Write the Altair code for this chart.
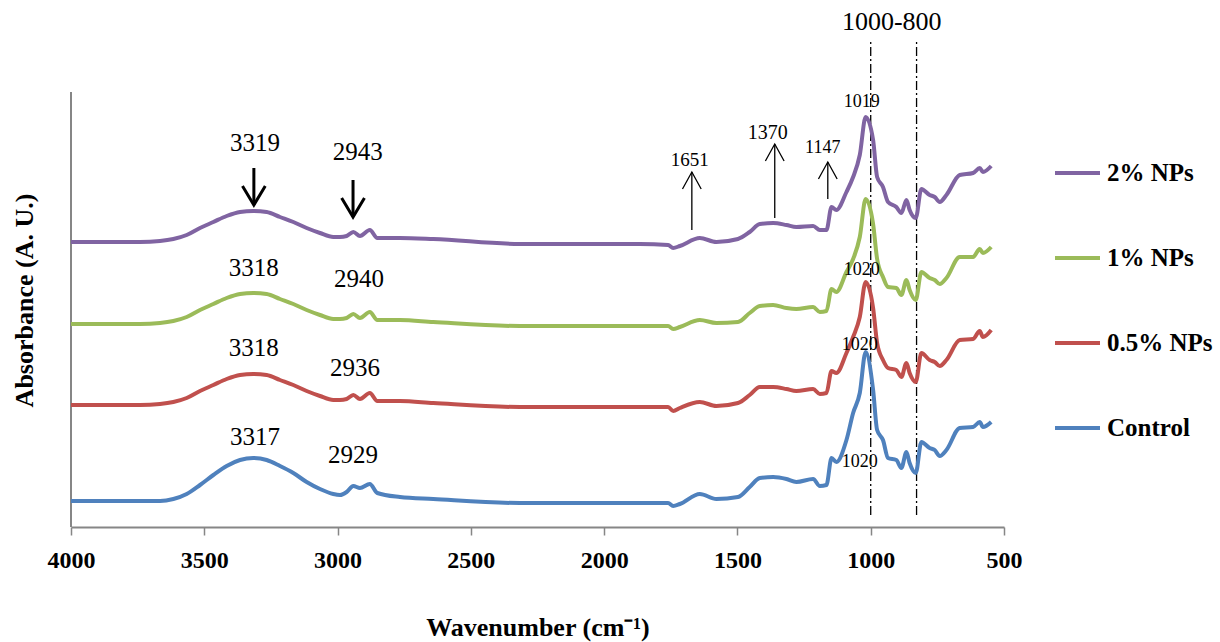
import altair as alt
import pandas as pd

# ---- data (height above the x axis, arbitrary units) ----
wavenumber = [4000, 3741, 3666, 3616, 3566, 3516, 3466, 3416, 3366, 3316, 3266, 3216, 3166, 3116,
              3066, 3016, 2991, 2966, 2941, 2916, 2879, 2851, 2766, 2641, 2316,
              1866, 1760, 1741, 1716, 1641, 1579, 1498, 1454,
              1416, 1366, 1316, 1279, 1216, 1191, 1166, 1147, 1129, 1091, 1066, 1041, 1019, 991,
              976, 954, 935, 904, 885, 866, 854, 831, 810, 779, 760, 741, 716, 666, 616, 591, 579, 548]

np2 = [285, 285, 286, 288, 292, 299, 305, 311, 315, 316, 315, 310, 305, 299,
       294, 290, 290, 291, 295, 291, 297, 289, 289, 288, 283,
       283, 282, 279, 281, 289, 285, 288, 295,
       303, 304, 302, 300, 301, 297, 297, 320, 317, 335, 350, 372, 410, 387,
       350, 340, 325, 320, 314, 327, 317, 309, 338, 332, 330, 325, 332, 352, 354, 359, 355, 361]

np1 = [203, 203, 204, 206, 210, 217, 223, 229, 233, 234, 233, 228, 223, 217,
       212, 208, 208, 209, 213, 209, 215, 207, 207, 205, 201,
       201, 201, 198, 200, 207, 204, 205, 214,
       221, 222, 219, 218, 220, 215, 216, 238, 235, 255, 268, 290, 328, 303,
       268, 250, 240, 239, 232, 247, 237, 227, 255, 249, 247, 243, 249, 270, 270, 278, 274, 280]

np05 = [122, 122, 123, 125, 129, 136, 142, 148, 152, 153, 152, 147, 142, 136,
        131, 127, 127, 128, 132, 128, 134, 126, 126, 124, 120,
        120, 120, 116, 119, 125, 121, 124, 132,
        140, 140, 138, 136, 138, 133, 134, 156, 154, 174, 190, 210, 245, 219,
        184, 167, 159, 157, 150, 164, 154, 145, 174, 167, 165, 161, 167, 187, 188, 196, 190, 197]

control = [26, 26, 26, 28, 33, 42, 52, 61, 67, 69, 67, 61, 54, 45,
           38, 33, 32, 35, 41, 39, 43, 34, 30, 28, 24,
           24, 24, 21, 23, 33, 28, 30, 40,
           49, 50, 48, 45, 48, 41, 42, 69, 65, 87, 114, 134, 175, 137,
           97, 87, 69, 67, 59, 75, 64, 54, 85, 79, 77, 71, 77, 99, 100, 105, 100, 105]

series_names = ["2% NPs", "1% NPs", "0.5% NPs", "Control"]
series_colors = ["#8064A2", "#9BBB59", "#C0504D", "#4F81BD"]
series_values = [np2, np1, np05, control]

# annotation labels
label_text = ["1000-800", "3319", "2943", "3318", "2940", "3318", "2936", "3317", "2929",
              "1651", "1370", "1147", "1019", "1020", "1020", "1020"]
label_wn = [921, 3310, 2924, 3314, 2920, 3314, 2935, 3310, 2942,
            1679, 1386, 1180, 1034, 1034, 1041, 1041]
label_h = [505, 384, 375, 259, 248, 179, 159, 90, 72,
           367, 394, 379, 425, 257, 182, 65]
label_size = [26, 25, 25, 25, 25, 25, 25, 25, 25, 19, 20, 18, 18, 18, 18, 18]

# bold down arrows (peak position, top, tip)
down_wn = [3314, 2942]
down_top = [359, 347]
down_tip = [322, 310]

# thin up arrows (position, tip, bottom)
up_wn = [1671, 1360, 1161]
up_tip = [355, 383, 365]
up_bottom = [297, 309, 328]

# dash-dot region lines
region_wn = [1000, 828]
region_top = 488
region_bottom = 12

# y axis line extent
yaxis_top = 435

# ---- build tables ----
rows = []
for name, vals in zip(series_names, series_values):
    assert len(vals) == len(wavenumber)
    for w, v in zip(wavenumber, vals):
        rows.append({"wn": w, "abs": v, "series": name})
spectra = pd.DataFrame(rows)

labels = pd.DataFrame({"text": label_text, "wn": label_wn, "h": label_h, "fs": label_size})
down = pd.DataFrame({"wn": down_wn, "top": down_top, "tip": down_tip})
up = pd.DataFrame({"wn": up_wn, "tip": up_tip, "bottom": up_bottom})
regions = pd.DataFrame({"wn": region_wn, "top": [region_top] * 2, "bottom": [region_bottom] * 2})
yaxis = pd.DataFrame({"wn": [4000], "y1": [0], "y2": [yaxis_top]})

FONT = "Liberation Serif"
xscale = alt.Scale(domain=[500, 4000], reverse=True, nice=False, zero=False)
yscale = alt.Scale(domain=[0, 517], nice=False, zero=False)

xaxis = alt.Axis(
    values=[4000, 3500, 3000, 2500, 2000, 1500, 1000, 500], format="d",
    grid=False, labelFlush=False, labelOverlap=False, labelBound=False,
    labelFont=FONT, labelFontSize=24, labelFontWeight="bold", labelColor="black",
    labelBaseline="alphabetic", labelPadding=32,
    domainColor="#868686", domainWidth=2, tickColor="#868686", tickWidth=1.5, tickSize=8,
    title="Wavenumber (cm⁻¹)", titleFont=FONT, titleFontSize=26, titleFontWeight="bold",
    titleColor="black", titleBaseline="alphabetic", titleAlign="center", titleX=466.5, titleY=108,
)
yaxis_def = alt.Axis(
    domain=False, ticks=False, labels=False, grid=False,
    title="Absorbance (A. U.)", titleFont=FONT, titleFontSize=26, titleFontWeight="bold",
    titleColor="black", titleBaseline="middle", titleAlign="center", titleAngle=270,
    titleX=-47, titleY=290,
)

lines = alt.Chart(spectra).mark_line(strokeWidth=4, interpolate="monotone").encode(
    x=alt.X("wn:Q", scale=xscale, axis=xaxis),
    y=alt.Y("abs:Q", scale=yscale, axis=yaxis_def),
    color=alt.Color("series:N", scale=alt.Scale(domain=series_names, range=series_colors),
                    legend=alt.Legend(title=None)),
    detail="series:N",
)

yline = alt.Chart(yaxis).mark_rule(color="#868686", strokeWidth=2).encode(
    x="wn:Q", y="y1:Q", y2="y2:Q")

region_lines = alt.Chart(regions).mark_rule(color="black", strokeWidth=1.3,
                                            strokeDash=[9, 3, 2, 3]).encode(
    x="wn:Q", y="bottom:Q", y2="top:Q")

down_shafts = alt.Chart(down).mark_rule(color="black", strokeWidth=3).encode(
    x="wn:Q", y="tip:Q", y2="top:Q")
down_heads = alt.Chart(down).mark_point(shape="M-0.6,-1L0,0L0.6,-1", filled=False, size=1444,
                                        strokeWidth=3, color="black", opacity=1).encode(
    x="wn:Q", y="tip:Q")

up_shafts = alt.Chart(up).mark_rule(color="black", strokeWidth=1.3).encode(
    x="wn:Q", y="bottom:Q", y2="tip:Q")
up_heads = alt.Chart(up).mark_point(shape="M-0.55,1L0,0L0.55,1", filled=False, size=1156,
                                    strokeWidth=1.3, color="black", opacity=1).encode(
    x="wn:Q", y="tip:Q")

texts = alt.Chart(labels).mark_text(font=FONT, color="black", align="center",
                                    baseline="middle").encode(
    x="wn:Q", y="h:Q", text="text:N", size=alt.Size("fs:Q", scale=None, legend=None))

chart = alt.layer(
    yline, region_lines, lines, down_shafts, down_heads, up_shafts, up_heads, texts
).properties(
    width=933, height=517,
    autosize=alt.AutoSizeParams(type="none"),
    padding={"left": 71, "top": 10, "right": 216, "bottom": 115},
).configure_view(stroke=None).configure_legend(
    orient="none", legendX=982, legendY=138.5, padding=0,
    labelFont=FONT, labelFontSize=25, labelFontWeight="bold", labelColor="black",
    symbolType="stroke", symbolSize=2025, symbolStrokeWidth=4, rowPadding=47, labelOffset=5,
)

chart.save("out.html", embed_options={"renderer": "svg", "actions": False})
